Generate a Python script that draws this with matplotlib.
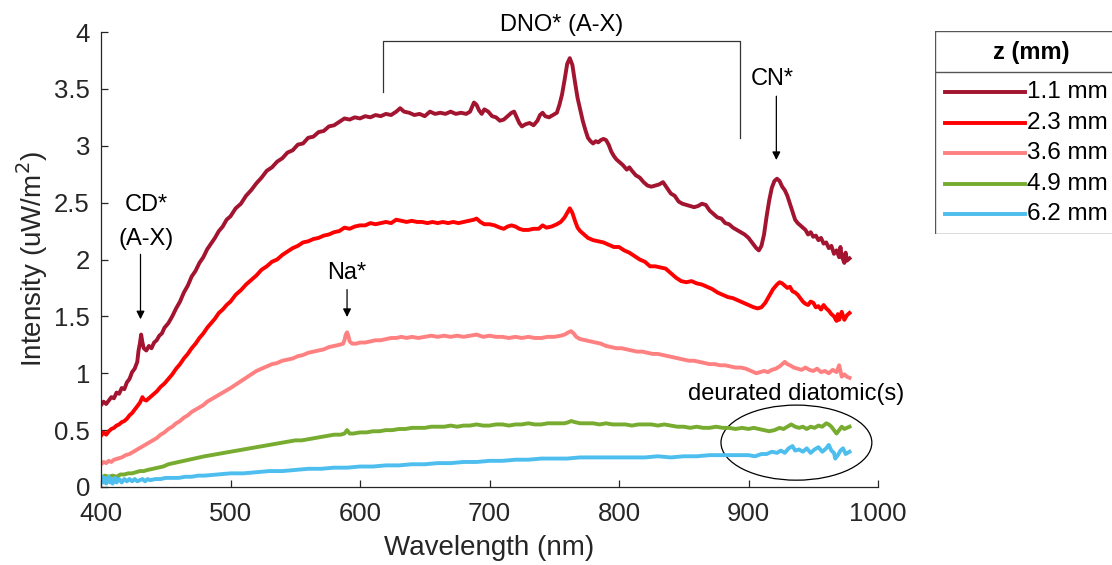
import matplotlib

matplotlib.use("Agg")
import matplotlib.pyplot as plt
from matplotlib.patches import Ellipse, Rectangle
from matplotlib.ticker import FuncFormatter

plt.rcParams["font.family"] = ["Liberation Sans", "DejaVu Sans"]

# emission spectra at several heights above the burner (z)
wl_11 = [400, 402, 404, 406, 408, 410, 412, 414, 416, 418, 420, 422, 424, 426, 428, 429, 430, 431,
         432, 433, 435, 437, 439, 441, 443, 445, 447, 449, 452, 455, 458, 461, 464, 467, 470, 473,
         476, 479, 482, 485, 488, 491, 494, 497, 500, 504, 508, 512, 516, 520, 524, 528, 532, 536,
         540, 544, 548, 552, 556, 560, 564, 568, 572, 576, 580, 584, 588, 592, 596, 600, 604, 608,
         612, 616, 620, 624, 628, 631, 634, 638, 642, 646, 650, 654, 658, 662, 666, 670, 674, 678,
         682, 685, 688, 690, 692, 694, 696, 699, 702, 705, 708, 711, 714, 717, 719, 721, 723, 725,
         728, 731, 734, 737, 739, 741, 743, 746, 749, 752, 754, 756, 758, 760, 762, 764, 766, 768,
         770, 772, 774, 776, 778, 780, 782, 784, 786, 788, 790, 792, 794, 796, 798, 800, 803, 806,
         808, 810, 813, 816, 819, 822, 825, 828, 831, 834, 837, 840, 843, 846, 849, 852, 855, 858,
         861, 864, 867, 870, 873, 876, 879, 882, 885, 888, 891, 894, 897, 900, 902, 904, 906, 908,
         910, 912, 914, 916, 918, 920, 922, 924, 926, 928, 930, 932, 934, 936, 938, 940, 942, 944,
         946, 948, 950, 952, 954, 956, 958, 960, 962, 964, 966, 968, 970, 971, 972, 974, 975, 976,
         978]
int_11 = [0.72, 0.75, 0.73, 0.76, 0.79, 0.78, 0.83, 0.82, 0.87, 0.86, 0.92, 0.95, 1.01, 1.04, 1.10,
          1.20, 1.26, 1.34, 1.27, 1.22, 1.20, 1.24, 1.22, 1.27, 1.29, 1.33, 1.35, 1.40, 1.44, 1.50,
          1.57, 1.63, 1.71, 1.77, 1.85, 1.90, 1.97, 2.02, 2.09, 2.14, 2.19, 2.25, 2.29, 2.35, 2.38,
          2.45, 2.49, 2.56, 2.61, 2.67, 2.72, 2.78, 2.81, 2.86, 2.89, 2.94, 2.96, 3.01, 3.02, 3.07,
          3.08, 3.12, 3.13, 3.17, 3.18, 3.21, 3.24, 3.23, 3.25, 3.24, 3.26, 3.25, 3.27, 3.26, 3.28,
          3.27, 3.30, 3.33, 3.30, 3.29, 3.27, 3.28, 3.26, 3.30, 3.28, 3.29, 3.28, 3.30, 3.28, 3.29,
          3.28, 3.30, 3.38, 3.36, 3.31, 3.28, 3.32, 3.30, 3.26, 3.25, 3.22, 3.23, 3.26, 3.29, 3.30,
          3.25, 3.20, 3.17, 3.19, 3.20, 3.18, 3.22, 3.27, 3.29, 3.26, 3.25, 3.27, 3.29, 3.36, 3.45,
          3.58, 3.72, 3.77, 3.71, 3.56, 3.42, 3.32, 3.22, 3.14, 3.07, 3.04, 3.02, 3.04, 3.03, 3.05,
          3.06, 3.05, 3.01, 2.95, 2.91, 2.88, 2.86, 2.83, 2.79, 2.81, 2.78, 2.74, 2.72, 2.68, 2.65,
          2.64, 2.65, 2.66, 2.68, 2.63, 2.58, 2.56, 2.51, 2.49, 2.48, 2.47, 2.46, 2.47, 2.49, 2.48,
          2.43, 2.40, 2.37, 2.36, 2.32, 2.31, 2.28, 2.26, 2.24, 2.22, 2.19, 2.16, 2.13, 2.10, 2.08,
          2.12, 2.22, 2.38, 2.52, 2.63, 2.69, 2.71, 2.69, 2.64, 2.61, 2.56, 2.49, 2.42, 2.35, 2.32,
          2.30, 2.28, 2.26, 2.22, 2.24, 2.20, 2.21, 2.17, 2.19, 2.14, 2.15, 2.10, 2.12, 2.05, 2.08,
          2.02, 2.11, 2.03, 1.97, 2.06, 1.99, 2.01]

wl_23 = [400, 402, 404, 406, 408, 410, 412, 414, 416, 418, 420, 422, 424, 426, 428, 430, 432, 433,
         435, 437, 440, 443, 446, 449, 452, 455, 458, 461, 464, 467, 470, 473, 476, 479, 482, 485,
         488, 491, 494, 497, 500, 504, 508, 512, 516, 520, 524, 528, 532, 536, 540, 544, 548, 552,
         556, 560, 564, 568, 572, 576, 580, 584, 588, 592, 596, 600, 604, 608, 612, 616, 620, 624,
         628, 632, 636, 640, 644, 648, 652, 656, 660, 664, 668, 672, 676, 680, 684, 688, 690, 693,
         696, 700, 704, 708, 711, 714, 717, 720, 723, 726, 730, 734, 738, 741, 744, 748, 752, 755,
         758, 760, 762, 764, 766, 768, 770, 773, 776, 780, 784, 788, 792, 796, 800, 804, 808, 812,
         816, 820, 824, 828, 832, 836, 840, 844, 848, 852, 856, 860, 864, 868, 872, 876, 880, 884,
         888, 892, 896, 900, 904, 907, 910, 913, 916, 919, 922, 924, 926, 928, 930, 932, 934, 936,
         938, 940, 942, 944, 946, 948, 950, 952, 954, 956, 958, 960, 962, 964, 966, 968, 969, 970,
         972, 974, 976, 978]
int_23 = [0.45, 0.48, 0.46, 0.49, 0.51, 0.52, 0.54, 0.55, 0.57, 0.58, 0.60, 0.63, 0.65, 0.68, 0.71,
          0.74, 0.79, 0.77, 0.76, 0.78, 0.81, 0.84, 0.88, 0.91, 0.95, 0.99, 1.04, 1.08, 1.13, 1.17,
          1.22, 1.26, 1.31, 1.35, 1.40, 1.44, 1.48, 1.53, 1.56, 1.60, 1.63, 1.69, 1.73, 1.78, 1.82,
          1.86, 1.91, 1.94, 1.98, 2.00, 2.04, 2.07, 2.10, 2.12, 2.15, 2.16, 2.18, 2.19, 2.21, 2.22,
          2.24, 2.25, 2.28, 2.27, 2.29, 2.30, 2.30, 2.32, 2.31, 2.32, 2.33, 2.32, 2.35, 2.34, 2.33,
          2.34, 2.33, 2.33, 2.32, 2.33, 2.32, 2.33, 2.32, 2.33, 2.32, 2.33, 2.34, 2.35, 2.36, 2.33,
          2.31, 2.31, 2.30, 2.28, 2.27, 2.29, 2.30, 2.29, 2.27, 2.26, 2.26, 2.27, 2.27, 2.30, 2.28,
          2.29, 2.31, 2.33, 2.37, 2.41, 2.45, 2.41, 2.34, 2.28, 2.25, 2.22, 2.19, 2.17, 2.16, 2.15,
          2.13, 2.11, 2.11, 2.08, 2.06, 2.03, 2.00, 1.98, 1.94, 1.94, 1.93, 1.92, 1.88, 1.84, 1.81,
          1.80, 1.81, 1.79, 1.78, 1.76, 1.74, 1.71, 1.69, 1.67, 1.66, 1.64, 1.62, 1.60, 1.58, 1.57,
          1.58, 1.62, 1.68, 1.74, 1.78, 1.80, 1.79, 1.77, 1.75, 1.76, 1.72, 1.71, 1.69, 1.66, 1.63,
          1.61, 1.60, 1.63, 1.62, 1.58, 1.59, 1.56, 1.60, 1.57, 1.55, 1.52, 1.50, 1.46, 1.52, 1.47,
          1.54, 1.47, 1.51, 1.53]

wl_36 = [400, 402, 404, 406, 408, 410, 413, 416, 419, 422, 425, 428, 431, 434, 437, 440, 443, 446,
         449, 452, 455, 458, 461, 464, 467, 470, 473, 476, 479, 482, 485, 488, 491, 494, 497, 500,
         504, 508, 512, 516, 520, 524, 528, 532, 536, 540, 544, 548, 552, 556, 560, 564, 568, 572,
         576, 580, 584, 587, 588, 589, 590, 591, 592, 594, 597, 600, 604, 608, 612, 616, 620, 624,
         628, 632, 636, 640, 645, 650, 655, 660, 665, 670, 675, 680, 685, 690, 695, 700, 705, 710,
         715, 720, 725, 730, 735, 740, 745, 750, 755, 758, 761, 763, 765, 767, 770, 774, 778, 782,
         786, 790, 794, 798, 802, 806, 810, 814, 818, 822, 826, 830, 834, 838, 842, 846, 850, 854,
         858, 862, 866, 870, 874, 878, 882, 886, 890, 894, 898, 902, 906, 909, 912, 915, 918, 921,
         924, 926, 928, 930, 932, 935, 938, 941, 944, 947, 950, 953, 956, 959, 962, 965, 968, 970,
         971, 972, 974, 976, 978]
int_36 = [0.20, 0.22, 0.21, 0.23, 0.22, 0.24, 0.25, 0.26, 0.28, 0.29, 0.31, 0.33, 0.35, 0.37, 0.39,
          0.41, 0.43, 0.46, 0.48, 0.51, 0.53, 0.56, 0.58, 0.61, 0.63, 0.66, 0.68, 0.70, 0.72, 0.75,
          0.77, 0.79, 0.81, 0.83, 0.85, 0.87, 0.90, 0.93, 0.96, 0.99, 1.02, 1.04, 1.06, 1.08, 1.09,
          1.11, 1.12, 1.13, 1.15, 1.16, 1.18, 1.19, 1.20, 1.21, 1.23, 1.24, 1.25, 1.26, 1.29, 1.34,
          1.36, 1.33, 1.28, 1.26, 1.26, 1.27, 1.27, 1.28, 1.29, 1.29, 1.30, 1.31, 1.31, 1.32, 1.31,
          1.32, 1.31, 1.32, 1.33, 1.32, 1.33, 1.32, 1.33, 1.32, 1.33, 1.34, 1.32, 1.33, 1.32, 1.32,
          1.31, 1.32, 1.31, 1.32, 1.31, 1.31, 1.32, 1.32, 1.33, 1.34, 1.36, 1.37, 1.35, 1.32, 1.30,
          1.29, 1.28, 1.27, 1.26, 1.24, 1.23, 1.22, 1.22, 1.21, 1.20, 1.19, 1.19, 1.18, 1.17, 1.17,
          1.16, 1.15, 1.14, 1.13, 1.12, 1.11, 1.11, 1.10, 1.09, 1.08, 1.08, 1.07, 1.07, 1.06, 1.05,
          1.05, 1.04, 1.02, 1.00, 1.01, 1.02, 1.01, 1.03, 1.04, 1.06, 1.08, 1.10, 1.08, 1.07, 1.05,
          1.04, 1.03, 1.05, 1.03, 1.02, 1.04, 1.01, 1.02, 1.00, 1.03, 1.01, 1.07, 1.02, 0.97, 0.99,
          0.97, 0.96]

wl_49 = [400, 403, 406, 409, 412, 415, 418, 421, 424, 427, 430, 433, 436, 440, 444, 448, 452, 456,
         460, 464, 468, 472, 476, 480, 485, 490, 495, 500, 505, 510, 515, 520, 525, 530, 535, 540,
         545, 550, 555, 560, 565, 570, 575, 580, 585, 588, 590, 592, 595, 600, 605, 610, 615, 620,
         625, 630, 635, 640, 645, 650, 655, 660, 665, 670, 675, 680, 685, 690, 695, 700, 705, 710,
         715, 720, 725, 730, 735, 740, 745, 750, 755, 758, 761, 763, 766, 770, 775, 780, 785, 790,
         795, 800, 805, 810, 815, 820, 825, 830, 835, 840, 845, 850, 855, 860, 865, 870, 875, 880,
         885, 890, 895, 900, 904, 908, 912, 916, 920, 924, 927, 930, 933, 936, 939, 942, 945, 948,
         951, 954, 957, 960, 962, 964, 966, 968, 970, 972, 974, 976, 978]
int_49 = [0.08, 0.10, 0.09, 0.10, 0.09, 0.11, 0.11, 0.12, 0.12, 0.13, 0.14, 0.14, 0.15, 0.16, 0.17,
          0.18, 0.20, 0.21, 0.22, 0.23, 0.24, 0.25, 0.26, 0.27, 0.28, 0.29, 0.30, 0.31, 0.32, 0.33,
          0.34, 0.35, 0.36, 0.37, 0.38, 0.39, 0.40, 0.41, 0.41, 0.42, 0.43, 0.44, 0.45, 0.46, 0.46,
          0.47, 0.50, 0.47, 0.47, 0.48, 0.48, 0.49, 0.49, 0.50, 0.50, 0.51, 0.51, 0.52, 0.52, 0.52,
          0.53, 0.53, 0.53, 0.54, 0.53, 0.54, 0.54, 0.55, 0.54, 0.54, 0.55, 0.55, 0.54, 0.55, 0.55,
          0.56, 0.55, 0.55, 0.56, 0.56, 0.56, 0.56, 0.57, 0.58, 0.57, 0.56, 0.56, 0.56, 0.55, 0.56,
          0.55, 0.55, 0.55, 0.54, 0.55, 0.55, 0.55, 0.54, 0.55, 0.54, 0.53, 0.53, 0.52, 0.53, 0.52,
          0.52, 0.53, 0.52, 0.52, 0.51, 0.52, 0.51, 0.52, 0.51, 0.50, 0.49, 0.50, 0.52, 0.51, 0.53,
          0.55, 0.53, 0.52, 0.53, 0.51, 0.53, 0.52, 0.54, 0.53, 0.56, 0.55, 0.53, 0.50, 0.47, 0.50,
          0.53, 0.51, 0.52, 0.53]

wl_62 = [400, 401, 402, 403, 404, 405, 406, 407, 408, 409, 410, 411, 412, 414, 416, 418, 420, 422,
         424, 426, 428, 430, 432, 434, 436, 438, 442, 446, 450, 455, 460, 465, 470, 475, 480, 490,
         500, 510, 520, 530, 540, 550, 560, 570, 580, 590, 600, 610, 620, 630, 640, 650, 660, 670,
         680, 690, 700, 710, 720, 730, 740, 750, 760, 770, 780, 790, 800, 810, 820, 830, 840, 850,
         860, 870, 880, 890, 900, 905, 910, 914, 918, 922, 925, 928, 931, 934, 936, 939, 942, 945,
         948, 951, 954, 957, 960, 962, 964, 966, 967, 969, 971, 973, 975, 978]
int_62 = [0.05, 0.09, 0.04, 0.08, 0.03, 0.07, 0.09, 0.04, 0.07, 0.03, 0.06, 0.08, 0.04, 0.07, 0.04,
          0.07, 0.05, 0.07, 0.05, 0.07, 0.05, 0.06, 0.07, 0.05, 0.07, 0.06, 0.07, 0.07, 0.08, 0.08,
          0.08, 0.09, 0.09, 0.10, 0.10, 0.11, 0.12, 0.12, 0.13, 0.14, 0.14, 0.15, 0.16, 0.16, 0.17,
          0.17, 0.18, 0.18, 0.19, 0.19, 0.20, 0.20, 0.21, 0.21, 0.22, 0.22, 0.23, 0.23, 0.24, 0.24,
          0.25, 0.25, 0.25, 0.26, 0.26, 0.26, 0.26, 0.26, 0.26, 0.27, 0.26, 0.27, 0.27, 0.28, 0.28,
          0.28, 0.28, 0.27, 0.29, 0.29, 0.31, 0.30, 0.32, 0.30, 0.34, 0.36, 0.32, 0.33, 0.31, 0.34,
          0.30, 0.33, 0.35, 0.31, 0.34, 0.37, 0.32, 0.30, 0.25, 0.28, 0.32, 0.34, 0.29, 0.31]

labels = ["1.1 mm", "2.3 mm", "3.6 mm", "4.9 mm", "6.2 mm"]
colors = ["#A2142F", "#FF0000", "#FF8080", "#77AC30", "#4DBEEE"]
series = [(wl_11, int_11), (wl_23, int_23), (wl_36, int_36), (wl_49, int_49), (wl_62, int_62)]

ink = "#262626"
fig = plt.figure(figsize=(11.12, 5.65), dpi=100)
ax = fig.add_axes([101 / 1112, 78 / 565, 777 / 1112, 455 / 565])

for (x, y), c in zip(series, colors):
    ax.plot(x, y, color=c, lw=2.8, solid_joinstyle="round")

ax.set_xlim(400, 1000)
ax.set_ylim(0, 4)
ax.set_xticks(range(400, 1001, 100))
ax.set_yticks([i * 0.5 for i in range(9)])
ax.yaxis.set_major_formatter(FuncFormatter(lambda v, p: f"{v:g}"))
ax.tick_params(direction="in", length=5, width=0.9, colors=ink, labelsize=18.5)
ax.tick_params(axis="x", pad=11)
ax.tick_params(axis="y", pad=8)
for side in ("top", "right"):
    ax.spines[side].set_visible(False)
for side in ("left", "bottom"):
    ax.spines[side].set_color(ink)
    ax.spines[side].set_linewidth(0.9)
ax.set_xlabel("Wavelength (nm)", fontsize=20, color=ink, labelpad=6)
ax.set_ylabel("Intensity (uW/m$^2$)", fontsize=20, color=ink, labelpad=3)

# peak labels
arrow = dict(arrowstyle="-|>", color="black", lw=0.9, mutation_scale=12)
ax.text(435, 2.48, "CD*", ha="center", va="center", fontsize=17)
ax.text(435, 2.18, "(A-X)", ha="center", va="center", fontsize=17)
ax.annotate("", xy=(430.5, 1.45), xytext=(430.5, 2.07), arrowprops=arrow)
ax.text(590, 1.88, "Na*", ha="center", va="center", fontsize=17)
ax.annotate("", xy=(590, 1.47), xytext=(590, 1.76), arrowprops=arrow)
ax.text(918, 3.59, "CN*", ha="center", va="center", fontsize=17)
ax.annotate("", xy=(921.5, 2.85), xytext=(921.5, 3.46), arrowprops=arrow)

# DNO band bracket
ax.plot([618, 618, 893.5, 893.5], [3.47, 3.92, 3.92, 3.065], color="#333333", lw=0.9, clip_on=False)
ax.text(756, 4.06, "DNO* (A-X)", ha="center", va="center", fontsize=17, clip_on=False)

ax.text(937, 0.82, "deurated diatomic(s)", ha="center", va="center", fontsize=17, clip_on=False)
ax.add_patch(Ellipse((937, 0.39), 116.5, 0.66, fill=False, ec="black", lw=0.9, clip_on=False))

# legend box drawn in pixel units
lg = fig.add_axes([935 / 1112, 331 / 565, 200 / 1112, 203 / 565])
lg.set_xlim(0, 200)
lg.set_ylim(203, 0)
lg.axis("off")
lg.add_patch(Rectangle((0, 0), 195, 203, fill=False, ec="#555555", lw=1.0))
lg.plot([0, 195], [41, 41], color="#555555", lw=1.0)
lg.text(96, 21, "z (mm)", ha="center", va="center", fontsize=17, fontweight="bold")
for i, (lab, c) in enumerate(zip(labels, colors)):
    yy = 61 + 30.6 * i
    lg.plot([10, 90], [yy, yy], color=c, lw=2.8)
    lg.text(92, yy, lab, ha="left", va="center", fontsize=17.5)

fig.savefig("out.png", dpi=100)
